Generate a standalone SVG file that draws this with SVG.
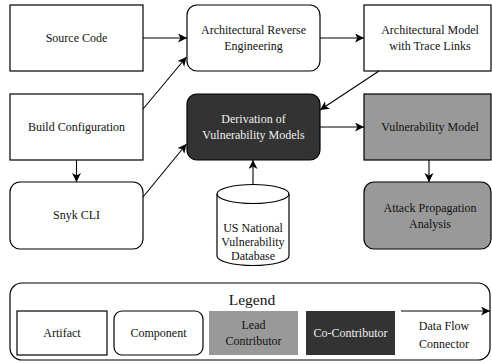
<svg xmlns="http://www.w3.org/2000/svg" width="492" height="363" viewBox="0 0 492 363">
  <style>
    .box { stroke: #000; stroke-width: 1.2; }
    .artifact { fill: #fff; }
    .component { fill: #fff; }
    .lead { fill: #999; }
    .co { fill: #333; }
    text { font-family: "Liberation Serif", "Times New Roman", serif; font-size: 12px; text-anchor: middle; fill: #111; }
    .light { fill: #f0f0f0; }
    .edge { fill: none; stroke: #000; stroke-width: 1.1; marker-end: url(#arrow); }
  </style>
  <defs>
    <marker id="arrow" markerUnits="userSpaceOnUse" markerWidth="12" markerHeight="10" refX="9" refY="4.5" orient="auto">
      <path d="M0,0 L9,4.5 L0,9 L2.4,4.5 Z" fill="#000"/>
    </marker>
  </defs>
  <rect width="492" height="363" fill="#fff"/>

  <g id="source-code">
    <rect class="box artifact" x="10" y="5" width="133" height="66"/>
    <text x="76.5" y="42">Source Code</text>
  </g>
  <g id="arch-reverse-engineering">
    <rect class="box component" x="187" y="5" width="133" height="66" rx="10"/>
    <text x="253.5" y="34">Architectural Reverse</text>
    <text x="253.5" y="50">Engineering</text>
  </g>
  <g id="arch-model">
    <rect class="box artifact" x="364" y="5" width="127" height="66"/>
    <text x="430" y="34">Architectural Model</text>
    <text x="430" y="50">with Trace Links</text>
  </g>
  <g id="build-configuration">
    <rect class="box artifact" x="10" y="94" width="133" height="66"/>
    <text x="76.5" y="131">Build Configuration</text>
  </g>
  <g id="derivation">
    <rect class="box co" x="187" y="94" width="133" height="66" rx="10"/>
    <text class="light" x="253.5" y="123">Derivation of</text>
    <text class="light" x="253.5" y="139">Vulnerability Models</text>
  </g>
  <g id="vulnerability-model">
    <rect class="box lead" x="364" y="94" width="127" height="66"/>
    <text x="430" y="131">Vulnerability Model</text>
  </g>
  <g id="snyk-cli">
    <rect class="box component" x="10" y="182" width="133" height="67" rx="10"/>
    <text x="76.5" y="219">Snyk CLI</text>
  </g>
  <g id="nvd">
    <path class="box artifact" d="M217,194 A36,9.5 0 0 1 289,194 L289,256 A36,9.5 0 0 1 217,256 Z"/>
    <path fill="none" stroke="#000" stroke-width="1.2" d="M217,194 A36,9.5 0 0 0 289,194"/>
    <text x="253" y="232">US National</text>
    <text x="253" y="246">Vulnerability</text>
    <text x="253" y="260">Database</text>
  </g>
  <g id="attack-propagation">
    <rect class="box lead" x="364" y="182" width="127" height="67" rx="10"/>
    <text x="430" y="212">Attack Propagation</text>
    <text x="430" y="228">Analysis</text>
  </g>

  <g id="connectors">
    <line class="edge" x1="143" y1="38" x2="187" y2="38"/>
    <line class="edge" x1="143" y1="109" x2="186.5" y2="57"/>
    <line class="edge" x1="143" y1="197" x2="186.5" y2="144"/>
    <line class="edge" x1="320" y1="38" x2="364" y2="38"/>
    <line class="edge" x1="379" y1="71" x2="320" y2="110"/>
    <line class="edge" x1="320" y1="127" x2="364" y2="127"/>
    <line class="edge" x1="76.5" y1="160" x2="76.5" y2="182"/>
    <line class="edge" x1="429" y1="160" x2="429" y2="182"/>
    <line class="edge" x1="253" y1="184.5" x2="253" y2="160"/>
  </g>

  <g id="legend">
    <rect class="box" fill="#fff" x="10" y="283" width="480" height="77" rx="12"/>
    <text x="252" y="305" style="font-size:15.5px">Legend</text>
    <g id="legend-artifact">
      <rect class="box artifact" x="17" y="311" width="90" height="44"/>
      <text x="62" y="337">Artifact</text>
    </g>
    <g id="legend-component">
      <rect class="box component" x="114" y="311" width="89" height="44" rx="8"/>
      <text x="158.5" y="337">Component</text>
    </g>
    <g id="legend-lead">
      <rect fill="#999" x="209" y="311" width="89" height="44"/>
      <text x="253.5" y="329">Lead</text>
      <text x="253.5" y="345">Contributor</text>
    </g>
    <g id="legend-co">
      <rect fill="#333" x="306" y="311" width="89" height="44"/>
      <text class="light" x="350.5" y="337">Co-Contributor</text>
    </g>
    <g id="legend-connector">
      <line class="edge" x1="401" y1="311" x2="490" y2="311"/>
      <text x="444" y="330">Data Flow</text>
      <text x="444" y="348">Connector</text>
    </g>
  </g>
</svg>
